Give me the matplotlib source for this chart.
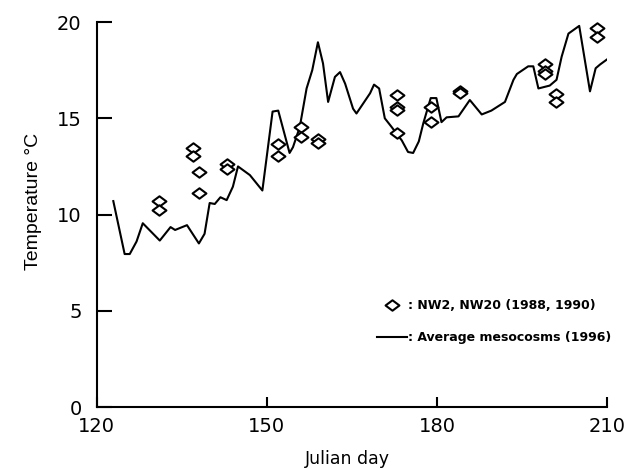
import matplotlib
matplotlib.use("Agg")
import matplotlib.pyplot as plt
from matplotlib.path import Path
from matplotlib.lines import Line2D

# average mesocosm temperature (1996)
meso_day = [122.9, 124.9, 125.8, 127.0, 128.1, 131.1, 133.0, 133.8, 135.9, 138.0,
            139.0, 139.9, 140.8, 141.8, 142.9, 144.0, 144.9, 147.0, 149.2, 151.0,
            152.0, 154.0, 154.6, 155.8, 157.0, 158.0, 159.0, 159.9, 160.8, 162.0,
            162.9, 163.8, 165.2, 165.8, 168.2, 168.9, 169.8, 170.8, 172.0, 173.8,
            174.9, 175.8, 176.8, 177.6, 178.9, 179.9, 180.8, 181.7, 183.8, 185.8,
            187.9, 189.6, 192.0, 193.5, 194.1, 196.1, 197.0, 197.9, 199.9, 201.1,
            202.0, 203.2, 205.1, 207.0, 208.0, 208.8, 210.2]
meso_temp = [10.7, 7.95, 7.95, 8.6, 9.55, 8.65, 9.35, 9.2, 9.45, 8.5,
             9.0, 10.6, 10.55, 10.9, 10.75, 11.45, 12.5, 12.05, 11.25, 15.35,
             15.4, 13.2, 13.5, 14.55, 16.55, 17.5, 18.95, 17.85, 15.85, 17.15,
             17.4, 16.8, 15.5, 15.25, 16.3, 16.75, 16.55, 15.0, 14.55, 13.85,
             13.25, 13.2, 13.8, 14.75, 16.05, 16.05, 14.8, 15.05, 15.1, 15.95,
             15.2, 15.4, 15.85, 17.0, 17.3, 17.7, 17.7, 16.55, 16.7, 17.0,
             18.2, 19.4, 19.8, 16.4, 17.6, 17.8, 18.1]

# NW2, NW20 field observations (1988, 1990)
obs_day = [131, 131, 137, 137, 138, 138, 143, 143, 152, 152, 156, 156, 159, 159,
           173, 173, 173, 173, 179, 179, 184, 184, 199, 199, 199, 201, 201, 208.3, 208.3]
obs_temp = [10.7, 10.25, 13.45, 13.05, 12.2, 11.1, 12.65, 12.35, 13.65, 13.05,
            14.55, 14.05, 13.95, 13.7, 16.2, 15.6, 15.45, 14.25, 15.6, 14.8,
            16.4, 16.3, 17.8, 17.45, 17.3, 16.25, 15.85, 19.7, 19.2]

plt.rcParams['font.family'] = ['Liberation Sans', 'DejaVu Sans']

diamond = Path([(-1, 0), (0, 0.75), (1, 0), (0, -0.75), (-1, 0)],
               [Path.MOVETO, Path.LINETO, Path.LINETO, Path.LINETO, Path.CLOSEPOLY])

fig = plt.figure(figsize=(6.29, 4.69), dpi=100)
ax = fig.add_axes([0.154, 0.132, 0.811, 0.821])

ax.plot(meso_day, meso_temp, color='black', lw=1.5)
ax.plot(obs_day, obs_temp, ls='none', marker=diamond, ms=10, mfc='white',
        mec='black', mew=1.5)

ax.set_xlim(120, 210)
ax.set_ylim(0, 20)
ax.set_xticks([120, 150, 180, 210])
ax.set_yticks([0, 5, 10, 15, 20])
ax.spines['top'].set_visible(False)
ax.spines['right'].set_visible(False)
for s in ['left', 'bottom']:
    ax.spines[s].set_linewidth(1.5)
ax.tick_params(axis='x', direction='in', length=7, width=1.5, labelsize=14, pad=7)
ax.tick_params(axis='y', direction='in', length=11, width=1.5, labelsize=14, pad=11)
for lbl in ax.get_xticklabels() + ax.get_yticklabels():
    lbl.set_family('DejaVu Sans')

ax.set_xlabel('Julian day', fontsize=12.5, family='DejaVu Sans', va='top')
ax.xaxis.set_label_coords(0.492, -0.112)
ax.set_ylabel('Temperature \u00b0C', fontsize=14)
ax.yaxis.set_label_coords(-0.108, 0.535)

handles = [Line2D([], [], ls='none', marker=diamond, ms=10, mfc='white', mec='black', mew=1.5),
           Line2D([], [], color='black', lw=1.5)]
labels = [': NW2, NW20 (1988, 1990)', ': Average mesocosms (1996)']
ax.legend(handles, labels, loc='lower right', bbox_to_anchor=(1.03, 0.134), frameon=False,
          handlelength=2.4, handletextpad=0.05, labelspacing=1.54,
          prop={'weight': 'bold', 'size': 9, 'family': 'DejaVu Sans'})

fig.savefig('out.png', dpi=100)
